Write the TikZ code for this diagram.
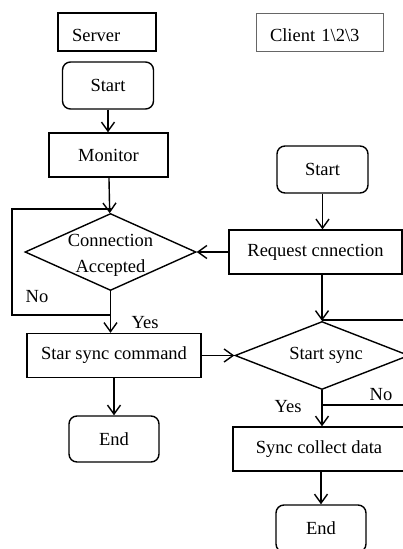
\documentclass[tikz,border=0pt]{standalone}
\usepackage{fontspec}
\setmainfont{Liberation Serif}
\usetikzlibrary{shapes.geometric,arrows.meta}
\tikzset{
    flow-box/.style = {draw, line width=1.4pt, rectangle, inner sep=0pt},
    flow-term/.style = {flow-box, rounded corners=8pt},
    flow-cond/.style = {draw, line width=1.4pt, diamond, inner sep=0pt},
    flow-title/.style = {draw, rectangle, inner ysep=0pt, inner xsep=14pt, align=left, minimum height=38pt, text height=19pt, text depth=0pt},
    flow-arrow/.style = {line width=1.4pt, -{Straight Barb[length=9pt,width=13pt]}},
    flow-line/.style = {line width=1.4pt},
}

\begin{document}
\begin{tikzpicture}[x=1pt, y=-1pt, font=\fontsize{18.5}{26}\selectfont]
\useasboundingbox (0,0) rectangle (403,549);
% headers
\node[flow-title, line width=1.9pt, text width=70pt] (server) at (107,32) {Server};
\node[flow-title, draw=black!60, line width=1pt, text width=99pt] (client) at (319.5,32) {Client 1\textbackslash 2\textbackslash 3};
% server side
\node[flow-term, minimum width=91pt, minimum height=47pt] (sstart) at (108,85.5) {Start};
\node[flow-box, minimum width=119pt, minimum height=44pt] (monitor) at (108.5,155) {Monitor};
\node[flow-cond, minimum width=171pt, minimum height=77pt, label={[align=center, yshift=-3pt]center:Connection\\Accepted}] (accept) at (110.5,252) {};
\node[flow-box, minimum width=174pt, minimum height=44pt] (command) at (114,355.5) {Star sync command};
\node[flow-term, minimum width=90pt, minimum height=46pt] (send) at (114,439) {End};
% client side
\node[flow-term, minimum width=91pt, minimum height=47pt] (cstart) at (322.5,169.5) {Start};
\node[flow-box, minimum width=173pt, minimum height=44pt] (request) at (315.5,252) {Request cnnection};
\node[flow-cond, minimum width=174pt, minimum height=68pt, label={[xshift=4pt]center:Start sync}] (sync) at (322,355.5) {};
\node[flow-box, minimum width=172pt, minimum height=44pt] (collect) at (319,449) {Sync collect data};
\node[flow-term, minimum width=90pt, minimum height=47pt] (cend) at (321,528.5) {End};
% branch labels
\node (yes1) at (145,323) {Yes};
\node (no1) at (37,297) {No};
\node (yes2) at (288,407) {Yes};
\node (no2) at (381,395) {No};
% loop corners
\coordinate (nofork) at (110.5,315);
\coordinate (noleft) at (12,209);
\coordinate (noback) at (110.5,209);
\coordinate (syncfork) at (322,405);
\coordinate (syncright) at (416,320);
\coordinate (syncback) at (322,320);

\draw[flow-arrow] (sstart) -- (sstart.south |- monitor.north);
\draw[flow-arrow] (monitor) -- (accept);
\draw[flow-arrow] (accept.south) -- (accept.south |- command.north);
\draw[flow-line] (nofork) -| (noleft) -- (noback);
\draw[flow-arrow] (command) -- (send);
\draw[flow-arrow] (cstart.south) -- (cstart.south |- request.north);
\draw[flow-arrow] (request.west) -- (accept.east);
\draw[flow-arrow] (sync.north |- request.south) -- (sync.north);
\draw[flow-arrow] (command.east) -- (sync.west);
\draw[flow-line] (syncfork) -| (syncright) -- (syncback);
\draw[flow-arrow] (sync.south) -- (sync.south |- collect.north);
\draw[flow-arrow] (cend.north |- collect.south) -- (cend.north);
\end{tikzpicture}
\end{document}
